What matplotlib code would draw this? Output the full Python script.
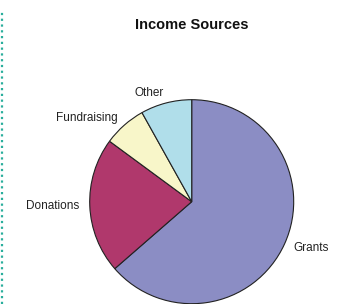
import matplotlib.pyplot as plt
from matplotlib.lines import Line2D

# income shares (percent)
sources = ['Grants', 'Donations', 'Fundraising', 'Other']
shares = [63.6, 21.5, 6.8, 8.1]
colors = ['#8B8DC4', '#B0386C', '#F8F6C9', '#B0DEEA']

plt.rcParams['font.family'] = ['Liberation Sans', 'DejaVu Sans']

W, H = 350, 304
fig = plt.figure(figsize=(W / 100, H / 100), dpi=100)

# pie centre and radius in pixels
cx, cy, r = 191.7, 201.7, 102
ax = fig.add_axes([(cx - r) / W, (H - cy - r) / H, 2 * r / W, 2 * r / H])

wedges, texts = ax.pie(shares, labels=sources, colors=colors, startangle=90,
                       counterclock=False, labeldistance=1.1,
                       wedgeprops=dict(edgecolor='#222222', linewidth=0.8),
                       textprops=dict(fontsize=8.5, color='#222222'))
for w in wedges:
    w.set_clip_on(False)
ax.set_xlim(-1, 1)
ax.set_ylim(-1, 1)
ax.set_aspect('equal')
ax.axis('off')

fig.text(cx / W, 1 - 25 / H, 'Income Sources', ha='center', va='center',
         fontsize=10.5, fontweight='bold', color='#111111')

# dotted border on the left
fig.add_artist(Line2D([1.5 / W, 1.5 / W], [0, 1 - 11 / H], transform=fig.transFigure,
                      color='#2AAE9C', linewidth=1.6, linestyle=(0, (1, 1.6))))

fig.savefig('out.png', dpi=100)
